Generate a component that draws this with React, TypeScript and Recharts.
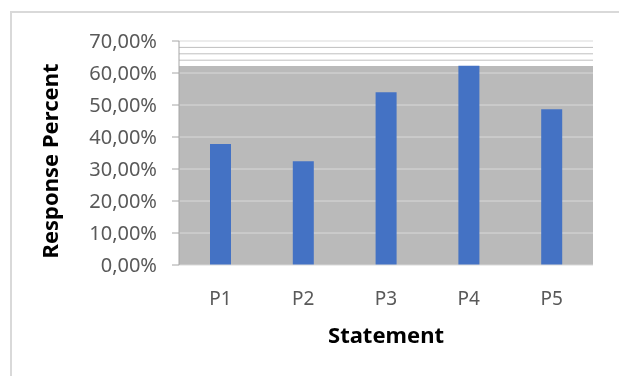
import React from "react";
import { BarChart, Bar, XAxis, YAxis, CartesianGrid } from "recharts";

// Share of respondents agreeing with each statement (percent)
const statements = ["P1", "P2", "P3", "P4", "P5"];
const responsePercent = [37.8, 32.4, 54.0, 62.3, 48.7];
const yTicks = [0, 10, 20, 30, 40, 50, 60, 70];
const upperGuides = [64, 66, 68];

const data = statements.map((s, i) => ({ statement: s, value: responsePercent[i] }));
const peak = Math.max(...responsePercent);

const FONT = "'Noto Sans', sans-serif";
const PLOT_GRAY = "#bababa";

const formatPercent = (v: number) => v.toFixed(2).replace(".", ",") + "%";

// Gray plot fill runs from 0 up to the tallest bar; stripe boundaries come from the y scale
const fillValues = [70, peak, 60, 50, 40, 30, 20, 10, 0];
const fillColors = fillValues.slice(0, -1).map((_, i) => (i === 0 ? "none" : PLOT_GRAY));

const YLabel = (props: any) => {
  const vb = props.viewBox || {};
  const cx = (vb.x || 0) + 50;
  const cy = (vb.y || 0) + (vb.height || 0) / 2 + 8;
  return (
    <text
      x={cx}
      y={cy}
      transform={`rotate(-90, ${cx}, ${cy})`}
      textAnchor="middle"
      fontFamily={FONT}
      fontWeight="bold"
      fontSize={22}
      fill="#000"
    >
      Response Percent
    </text>
  );
};

export default function App() {
  return (
    <div style={{ position: "relative", width: 603, height: 358 }}>
      {/* chart frame: top and left edges only */}
      <div
        style={{
          position: "fixed",
          left: 10,
          top: 11,
          width: 609,
          height: 365,
          boxSizing: "border-box",
          borderTop: "2px solid #d9d9d9",
          borderLeft: "2px solid #d9d9d9",
          pointerEvents: "none",
        }}
      />
      <div style={{ position: "absolute", left: 0, top: 0 }}>
        <BarChart
          width={603}
          height={358}
          data={data}
          margin={{ top: 33, right: 18, bottom: 11, left: 0 }}
          barSize={21}
        >
          <CartesianGrid
            vertical={false}
            horizontalValues={fillValues}
            horizontalFill={fillColors}
            fillOpacity={1}
            stroke="transparent"
          />
          <CartesianGrid
            vertical={false}
            horizontalValues={[10, 20, 30, 40, 50, 60, 70]}
            stroke="#d9d9d9"
          />
          <CartesianGrid vertical={false} horizontalValues={upperGuides} stroke="#bfbfbf" />
          <XAxis
            dataKey="statement"
            height={90}
            tickLine={false}
            tickSize={0}
            tickMargin={27}
            axisLine={{ stroke: "#d9d9d9" }}
            tick={{ fill: "#595959", fontSize: 19, fontFamily: FONT }}
            label={{
              value: "Statement",
              position: "insideBottom",
              offset: 12,
              fill: "#000",
              fontSize: 22,
              fontWeight: "bold",
              fontFamily: FONT,
            }}
          />
          <YAxis
            width={171}
            domain={[0, 70]}
            ticks={yTicks}
            interval={0}
            tickFormatter={formatPercent}
            tickSize={7}
            tickMargin={15}
            axisLine={{ stroke: "#a6a6a6" }}
            tickLine={{ stroke: "#a6a6a6" }}
            tick={{ fill: "#595959", fontSize: 20, fontFamily: FONT }}
            label={<YLabel />}
          />
          <Bar dataKey="value" fill="#4472c4" isAnimationActive={false} />
        </BarChart>
      </div>
    </div>
  );
}
